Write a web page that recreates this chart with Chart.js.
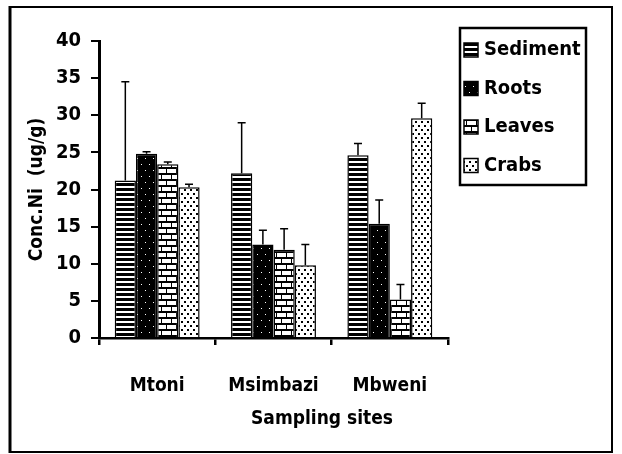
<!DOCTYPE html>
<html><head><meta charset="utf-8">
<script src="https://cdn.jsdelivr.net/npm/chart.js@4.4.1/dist/chart.umd.min.js"></script>
<style>html,body{margin:0;padding:0;background:#fff;}#wrap{width:622px;height:454px;}</style>
</head><body><div id="wrap"><canvas id="c" width="622" height="454"></canvas></div>
<script>
const categories = ["Mtoni", "Msimbazi", "Mbweni"];
const seriesNames = ["Sediment", "Roots", "Leaves", "Crabs"];
const sediment = [21.2, 22.2, 24.6];
const roots = [24.8, 12.6, 15.4];
const leaves = [23.4, 11.9, 5.2];
const crabs = [20.3, 9.8, 29.6];
const sedimentErr = [13.3, 6.8, 1.6];
const rootsErr = [0.3, 1.9, 3.2];
const leavesErr = [0.3, 2.8, 2.0];
const crabsErr = [0.4, 2.8, 2.0];
const yTicks = [0, 5, 10, 15, 20, 25, 30, 35, 40];

const FONT = "'DejaVu Sans Condensed', 'DejaVu Sans', sans-serif";

function mk(w, h, draw) {
  const c = document.createElement('canvas'); c.width = w; c.height = h;
  const x = c.getContext('2d'); draw(x);
  return document.getElementById('c').getContext('2d').createPattern(c, 'repeat');
}
const patSediment = mk(8, 5, x => { x.fillStyle = '#000'; x.fillRect(0,0,8,5); x.fillStyle = '#fff'; x.fillRect(0,1,8,2); });
const patRoots = mk(8, 12, x => { x.fillStyle = '#000'; x.fillRect(0,0,8,12); x.fillStyle = '#fff'; x.fillRect(1,2,1,1); x.fillRect(5,8,1,1); });
const patLeaves = mk(10, 12, x => { x.fillStyle = '#000'; x.fillRect(0,0,10,12); x.fillStyle = '#fff';
  x.fillRect(0,1,6,4); x.fillRect(7,1,3,4); x.fillRect(0,7,1,4); x.fillRect(2,7,8,4); });
const patCrabs = mk(6, 8, x => { x.fillStyle = '#fff'; x.fillRect(0,0,6,8); x.fillStyle = '#000'; x.fillRect(1,1,2,2); x.fillRect(4,5,2,2); });
const pats = [patSediment, patRoots, patLeaves, patCrabs];
const vals = [sediment, roots, leaves, crabs];
const errs = [sedimentErr, rootsErr, leavesErr, crabsErr];

const errorBars = {
  id: 'errorBars',
  afterDatasetsDraw(chart) {
    const ctx = chart.ctx, ys = chart.scales.y;
    ctx.save(); ctx.strokeStyle = '#000'; ctx.lineWidth = 1.5;
    chart.data.datasets.forEach((ds, i) => {
      chart.getDatasetMeta(i).data.forEach((bar, j) => {
        const top = ys.getPixelForValue(ds.data[j] + errs[i][j]);
        ctx.beginPath(); ctx.moveTo(bar.x, bar.y); ctx.lineTo(bar.x, top);
        ctx.moveTo(bar.x - 4, top); ctx.lineTo(bar.x + 4, top); ctx.stroke();
      });
    });
    ctx.restore();
  }
};

const decor = {
  id: 'decor',
  afterDraw(chart) {
    const ctx = chart.ctx;
    ctx.save();
    ctx.strokeStyle = '#000';
    ctx.lineWidth = 2; ctx.strokeRect(10, 7, 602, 445);
    ctx.lineWidth = 3; ctx.beginPath(); ctx.moveTo(10, 6); ctx.lineTo(10, 453); ctx.stroke();
    ctx.lineWidth = 2.5; ctx.strokeRect(460, 28, 126, 157);
    ctx.font = "bold 20px " + FONT; ctx.textBaseline = 'middle';
    seriesNames.forEach((n, i) => {
      const y = 50 + i * 38.5;
      ctx.fillStyle = pats[i]; ctx.fillRect(464, y - 7, 14, 14);
      ctx.lineWidth = 1.5; ctx.strokeStyle = '#000'; ctx.strokeRect(464, y - 7, 14, 14);
      ctx.fillStyle = '#000'; ctx.fillText(n, 484, y);
    });
    ctx.textAlign = 'center'; ctx.font = "bold 19px " + FONT;
    ctx.fillText('Sampling sites', 322, 419);
    ctx.restore();
  }
};

new Chart(document.getElementById('c'), {
  type: 'bar',
  data: {
    labels: categories,
    datasets: seriesNames.map((n, i) => ({
      label: n, data: vals[i], backgroundColor: pats[i],
      borderColor: '#000', borderWidth: 1.5,
      categoryPercentage: 0.73, barPercentage: 1.0
    }))
  },
  options: {
    responsive: false, animation: false,
    layout: { padding: { left: 0, right: 174, top: 41, bottom: 0 } },
    plugins: { legend: { display: false }, tooltip: { enabled: false } },
    scales: {
      x: {
        grid: { display: true, drawOnChartArea: false, offset: true, color: '#000', lineWidth: 2.5, tickLength: 7 },
        border: { display: true, color: '#000', width: 2.5 },
        ticks: { color: '#000', padding: 30, font: { family: FONT, size: 19, weight: 'bold' } },
        afterFit(s) { s.height = 116; }
      },
      y: {
        min: 0, max: 40,
        afterBuildTicks(s) { s.ticks = yTicks.map(v => ({ value: v })); },
        grid: { display: true, drawOnChartArea: false, color: '#000', lineWidth: 2, tickLength: 8 },
        border: { display: true, color: '#000', width: 3 },
        ticks: { color: '#000', padding: 10, font: { family: FONT, size: 20, weight: 'bold' } },
        title: { display: true, text: 'Conc.Ni  (ug/g)', color: '#000', padding: { top: 26, bottom: 0 }, font: { family: FONT, size: 19, weight: 'bold' } },
        afterFit(s) { s.width = 99; }
      }
    }
  },
  plugins: [errorBars, decor]
});
</script></body></html>
